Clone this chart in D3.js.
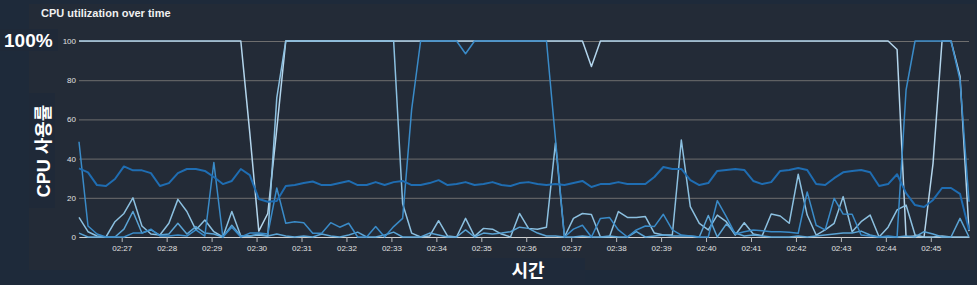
<!DOCTYPE html>
<html>
<head>
<meta charset="utf-8">
<script src="https://cdn.jsdelivr.net/npm/d3@7"></script>
<style>
body { margin: 0; background: #1e2a3a; }
svg { display: block; font-family: "Liberation Sans", Arial, "Noto Sans CJK KR", sans-serif; }
</style>
</head>
<body>
<svg id="chart" width="977" height="285"></svg>
<script>
// samples every 12 s starting here
var startTime = "02:26:03",
    stepSeconds = 12;

var tickLabels = ["02:27", "02:28", "02:29", "02:30", "02:31", "02:32", "02:33", "02:34", "02:35", "02:36",
                  "02:37", "02:38", "02:39", "02:40", "02:41", "02:42", "02:43", "02:44", "02:45"];
var yTicks = [0, 20, 40, 60, 80, 100];

var cpu0 = [35, 33, 26.5, 26, 29.6, 36, 34, 34, 32.6, 26,
            27.5, 32.6, 34.7, 34.7, 33.7, 30.6, 27, 28.6, 34.7, 31.6,
            19.4, 18, 18.4, 26, 26.5, 27.5, 28.3, 26.5, 26.5, 27.5,
            28.6, 26.5, 26.5, 28, 26.5, 28, 28.6, 26.5, 26.5, 27.5,
            29, 26.5, 27, 28, 26.5, 27, 28, 26.5, 26, 27.5,
            28, 27, 26.5, 27, 26.5, 27.5, 28.6, 25.5, 27, 27,
            28, 27, 27, 27, 30.6, 35.7, 34.7, 34.7, 29, 26.5,
            27.5, 33.7, 34.2, 34.7, 34.2, 28.6, 27, 28, 33.7, 34.2,
            35.2, 34.2, 27, 26.5, 30, 33, 33.7, 34.2, 33, 26,
            27, 32, 22.4, 16.3, 15.3, 18.9, 25, 25, 22, 3.6];

var cpu1 = [48.6, 5.6, 1.5, 0, 0, 0, 2, 2, 4, 0.5,
            0.5, 1, 0.5, 3.6, 0.5, 38, 0, 5, 0, 2,
            2, 1.5, 25, 7, 7.8, 7.3, 1.9, 1.9, 7.3, 5,
            7, 0, 0, 5.3, 0, 5.3, 9.5, 65, 100, 100,
            100, 100, 100, 93.5, 100, 100, 100, 100, 100, 100,
            100, 100, 100, 50, 0, 4, 6, 0, 9.5, 10,
            3.6, 0, 3.6, 5.6, 5.3, 11.6, 3.6, 1, 0.5, 0,
            0, 18.5, 10.4, 1.5, 2.7, 3.6, 3.2, 2.7, 2.7, 2.4,
            1.9, 23, 6, 3.6, 19.7, 11.7, 11.6, 1, 0.5, 0,
            0.5, 0, 75, 100, 100, 100, 100, 100, 80, 18];

var cpu2 = [100, 100, 100, 100, 100, 100, 100, 100, 100, 100,
            100, 100, 100, 100, 100, 100, 100, 100, 100, 53,
            3, 12, 55, 100, 100, 100, 100, 100, 100, 100,
            100, 100, 100, 100, 100, 100, 100, 100, 100, 100,
            100, 100, 100, 100, 100, 100, 100, 100, 100, 100,
            100, 100, 100, 100, 100, 100, 100, 87, 100, 100,
            100, 100, 100, 100, 100, 100, 100, 100, 100, 100,
            100, 100, 100, 100, 100, 100, 100, 100, 100, 100,
            100, 100, 100, 100, 100, 100, 100, 100, 100, 100,
            100, 95.7, 0, 0.5, 0, 37.6, 100, 100, 82, 3];

var cpu3 = [10, 2.7, 0.5, 0, 7.8, 12, 20, 5.6, 1.5, 1,
            7, 19.2, 13, 3.6, 8.7, 2.7, 0, 13, 0.5, 0.5,
            1, 0.5, 71, 100, 100, 100, 100, 100, 100, 100,
            100, 100, 100, 100, 100, 100, 17, 2, 0, 0.5,
            8.3, 0.5, 0, 9.5, 0.3, 4.4, 4, 1.5, 0, 12,
            4.4, 4, 5, 48, 0, 9.5, 12, 11.5, 0, 0,
            13, 10, 10, 10.4, 2, 1, 1, 49.5, 15.5, 7,
            3.6, 11.2, 7.8, 1, 7.3, 1.5, 0.7, 11.7, 10.7, 7,
            32, 11.2, 1, 3.6, 7, 20.6, 2.7, 7.8, 11.2, 0,
            5, 13.8, 16.3, 1, 0, 0, 0.5, 0, 0, 0];

var cpu4 = [2, 0, 0, 0, 0, 4, 13, 2, 3.6, 1,
            1.5, 7, 1.5, 5.3, 2, 1.5, 0, 6, 0.5, 0.5,
            1.5, 0.5, 1.5, 0.5, 0, 0.5, 0, 1.5, 0.5, 0,
            1, 2.5, 0, 0, 1, 2.5, 0, 0, 0, 2,
            1, 0, 0, 3.6, 0, 2, 1.5, 2, 2.7, 5,
            4.4, 2, 0.5, 0.5, 0, 0, 0.5, 0, 0, 0.5,
            0, 0, 2.7, 0, 0.5, 1, 0.5, 0.5, 0.5, 0,
            11, 0, 6.6, 2, 0.5, 1, 0.5, 0, 0, 0,
            0.5, 0, 0.5, 1, 1.5, 2, 2, 3, 1, 0,
            0, 0, 0.5, 0, 2.7, 1.5, 0, 0, 9.5, 0];

// draw order: palest first, dark last
var series = [
  { values: cpu2, color: "#b3d5ec", width: 1.5 },
  { values: cpu3, color: "#8cc0e0", width: 1.5 },
  { values: cpu4, color: "#5aa3d4", width: 1.5 },
  { values: cpu1, color: "#3a8bc8", width: 1.5 },
  { values: cpu0, color: "#1f6db2", width: 2 }
];

var svg = d3.select("#chart"),
    margin = {top: 41, right: 8, bottom: 48, left: 79},
    width = +svg.attr("width") - margin.left - margin.right,
    height = +svg.attr("height") - margin.top - margin.bottom;

var parseTime = d3.timeParse("%H:%M:%S"),
    parseTick = d3.timeParse("%H:%M"),
    t0 = parseTime(startTime),
    times = cpu0.map((d, i) => d3.timeSecond.offset(t0, i * stepSeconds));

// panel + label boxes
svg.append("rect").attr("x", 29).attr("y", 4).attr("width", 946).attr("height", 266).attr("fill", "#232b37");
svg.append("rect").attr("x", 0).attr("y", 29).attr("width", 58).attr("height", 22).attr("fill", "#1f2938");
svg.append("rect").attr("x", 29).attr("y", 93).attr("width", 26).attr("height", 115).attr("fill", "#1f2938");
svg.append("rect").attr("x", 470).attr("y", 258).attr("width", 115).attr("height", 27).attr("fill", "#1f2a3a");

var g = svg.append("g").attr("transform", "translate(" + margin.left + "," + margin.top + ")");

var x = d3.scaleTime()
    .domain(d3.extent(times))
    .range([0, width]);

var y = d3.scaleLinear()
    .domain([0, 100])
    .range([height, 0]);

var yAxis = g.append("g")
    .call(d3.axisLeft(y).tickValues(yTicks).tickSize(-width).tickPadding(3));
yAxis.select(".domain").remove();
yAxis.selectAll("line").attr("stroke", "#6e6e6e");
yAxis.selectAll("text").attr("fill", "#e0e0e0").attr("font-size", 8);

var xAxis = g.append("g")
    .attr("transform", "translate(0," + height + ")")
    .call(d3.axisBottom(x)
      .tickValues(tickLabels.map(parseTick).map(d => { d.setFullYear(t0.getFullYear(), t0.getMonth(), t0.getDate()); return d; }))
      .tickFormat(d3.timeFormat("%H:%M"))
      .tickSize(5)
      .tickSizeOuter(0)
      .tickPadding(3));
xAxis.select(".domain").attr("stroke", "#d0d0d0");
xAxis.selectAll("line").attr("stroke", "#bbb");
xAxis.selectAll("text").attr("fill", "#e0e0e0").attr("font-size", 8);

var line = d3.line()
    .x((d, i) => x(times[i]))
    .y(d => y(d));

g.selectAll(".series")
  .data(series)
  .enter().append("path")
    .attr("class", "series")
    .attr("fill", "none")
    .attr("stroke", d => d.color)
    .attr("stroke-width", d => d.width)
    .attr("stroke-linejoin", "round")
    .attr("d", d => line(d.values));

svg.append("text")
    .attr("x", 41).attr("y", 17)
    .attr("fill", "#f0f0f0")
    .attr("font-size", 11)
    .attr("font-weight", "bold")
    .text("CPU utilization over time");

svg.append("text")
    .attr("x", 4).attr("y", 47)
    .attr("fill", "#ffffff")
    .attr("font-size", 19)
    .attr("font-weight", "bold")
    .text("100%");

svg.append("text")
    .attr("transform", "translate(50,151) rotate(-90)")
    .attr("text-anchor", "middle")
    .attr("fill", "#ffffff")
    .attr("font-size", 18)
    .attr("font-weight", "bold")
    .text("CPU 사용률");

svg.append("text")
    .attr("x", 528).attr("y", 277)
    .attr("text-anchor", "middle")
    .attr("fill", "#ffffff")
    .attr("font-size", 18)
    .attr("font-weight", "bold")
    .text("시간");
</script>
</body>
</html>
